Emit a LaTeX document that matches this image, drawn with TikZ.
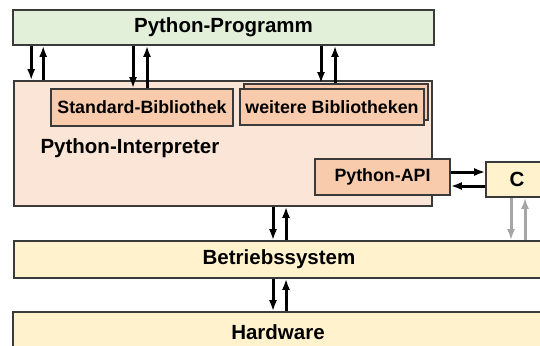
\documentclass[tikz,border=0pt]{standalone}
\usepackage{fontspec}
\setmainfont{Liberation Sans}
\usepackage{tikz}
\usetikzlibrary{arrows.meta,positioning,shadows}
\definecolor{gruen}{HTML}{E2F0D9}
\definecolor{pfirsich}{HTML}{FBE5D6}
\definecolor{lachs}{HTML}{F8CBAD}
\definecolor{creme}{HTML}{FFF2CC}
\definecolor{rand}{HTML}{3A3A3A}
\tikzstyle{kasten} = [draw=rand, line width=1.6pt, rectangle, inner sep=0pt, font=\bfseries\fontsize{20.5}{24}\selectfont]
\tikzstyle{programm} = [kasten, fill=gruen]
\tikzstyle{interpreter} = [kasten, fill=pfirsich]
\tikzstyle{modul} = [kasten, fill=lachs, font=\bfseries\fontsize{17.8}{21}\selectfont]
\tikzstyle{system} = [kasten, fill=creme]
\tikzstyle{pfeil} = [line width=3pt, -{Latex[length=11pt,width=8pt]}]
\tikzstyle{grau} = [pfeil, draw=black!35, -{Latex[length=11pt,width=8pt,fill=black!35]}]
\begin{document}
\begin{tikzpicture}[x=1pt,y=-1pt]
\useasboundingbox (0,0) rectangle (540,345);
\clip (0,0) rectangle (540,345);
% Kaesten
\node[programm, minimum width=421pt, minimum height=35pt] (prog) at (223.5,27.5) {Python-Programm};
\node[interpreter, minimum width=418pt, minimum height=125pt] (interp) at (223,143.5) {};
\node[anchor=west, font=\bfseries\fontsize{20.5}{24}\selectfont] (ilabel) at (37,148) {Python-Interpreter};
\node[modul, minimum width=182pt, minimum height=37pt] (std) at (142,107.5) {Standard-Bibliothek};
\node[modul, minimum width=184pt, minimum height=36pt, copy shadow={shadow xshift=4pt, shadow yshift=5pt}] (weit) at (332,107) {weitere Bibliotheken};
\node[modul, minimum width=135pt, minimum height=36pt] (api) at (382.5,177) {Python-API};
\node[system, minimum width=62pt, minimum height=35pt] (c) at (517,179.5) {C};
\node[system, minimum width=530pt, minimum height=37pt] (os) at (279,259.5) {Betriebssystem};
\node[system, minimum width=530pt, minimum height=40pt] (hw) at (278,332) {Hardware};
% Hilfspunkte
\coordinate (a1) at ([xshift=18]interp.north west);
\coordinate (a2) at ([xshift=30]interp.north west);
\coordinate (s1) at ([xshift=-9]std.north);
\coordinate (s2) at ([xshift=5]std.north);
\coordinate (w1) at ([xshift=-11,yshift=5]weit.north);
\coordinate (w2) at ([xshift=3,yshift=5]weit.north);
\coordinate (h1) at ([yshift=5]api.east);
\coordinate (h2) at ([yshift=-9]api.east);
\coordinate (g1) at ([xshift=-6]c.south);
\coordinate (g2) at ([xshift=8]c.south);
\coordinate (o1) at ([xshift=-6]os.north);
\coordinate (o2) at ([xshift=7]os.north);
% Pfeile
\draw[pfeil] (a1 |- prog.south) -- (a1);
\draw[pfeil] (a2) -- (a2 |- prog.south);
\draw[pfeil] (s1 |- prog.south) -- (s1);
\draw[pfeil] (s2) -- (s2 |- prog.south);
\draw[pfeil] (w1 |- prog.south) -- (w1);
\draw[pfeil] (w2) -- (w2 |- prog.south);
\draw[pfeil] (h1) -- (h1 -| c.west);
\draw[pfeil] (h2 -| c.west) -- (h2);
\draw[grau] (g1) -- (g1 |- os.north);
\draw[grau] (g2 |- os.north) -- (g2);
\draw[pfeil] (o1 |- interp.south) -- (o1);
\draw[pfeil] (o2) -- (o2 |- interp.south);
\draw[pfeil] (o1 |- os.south) -- (o1 |- hw.north);
\draw[pfeil] (o2 |- hw.north) -- (o2 |- os.south);
\end{tikzpicture}
\end{document}
